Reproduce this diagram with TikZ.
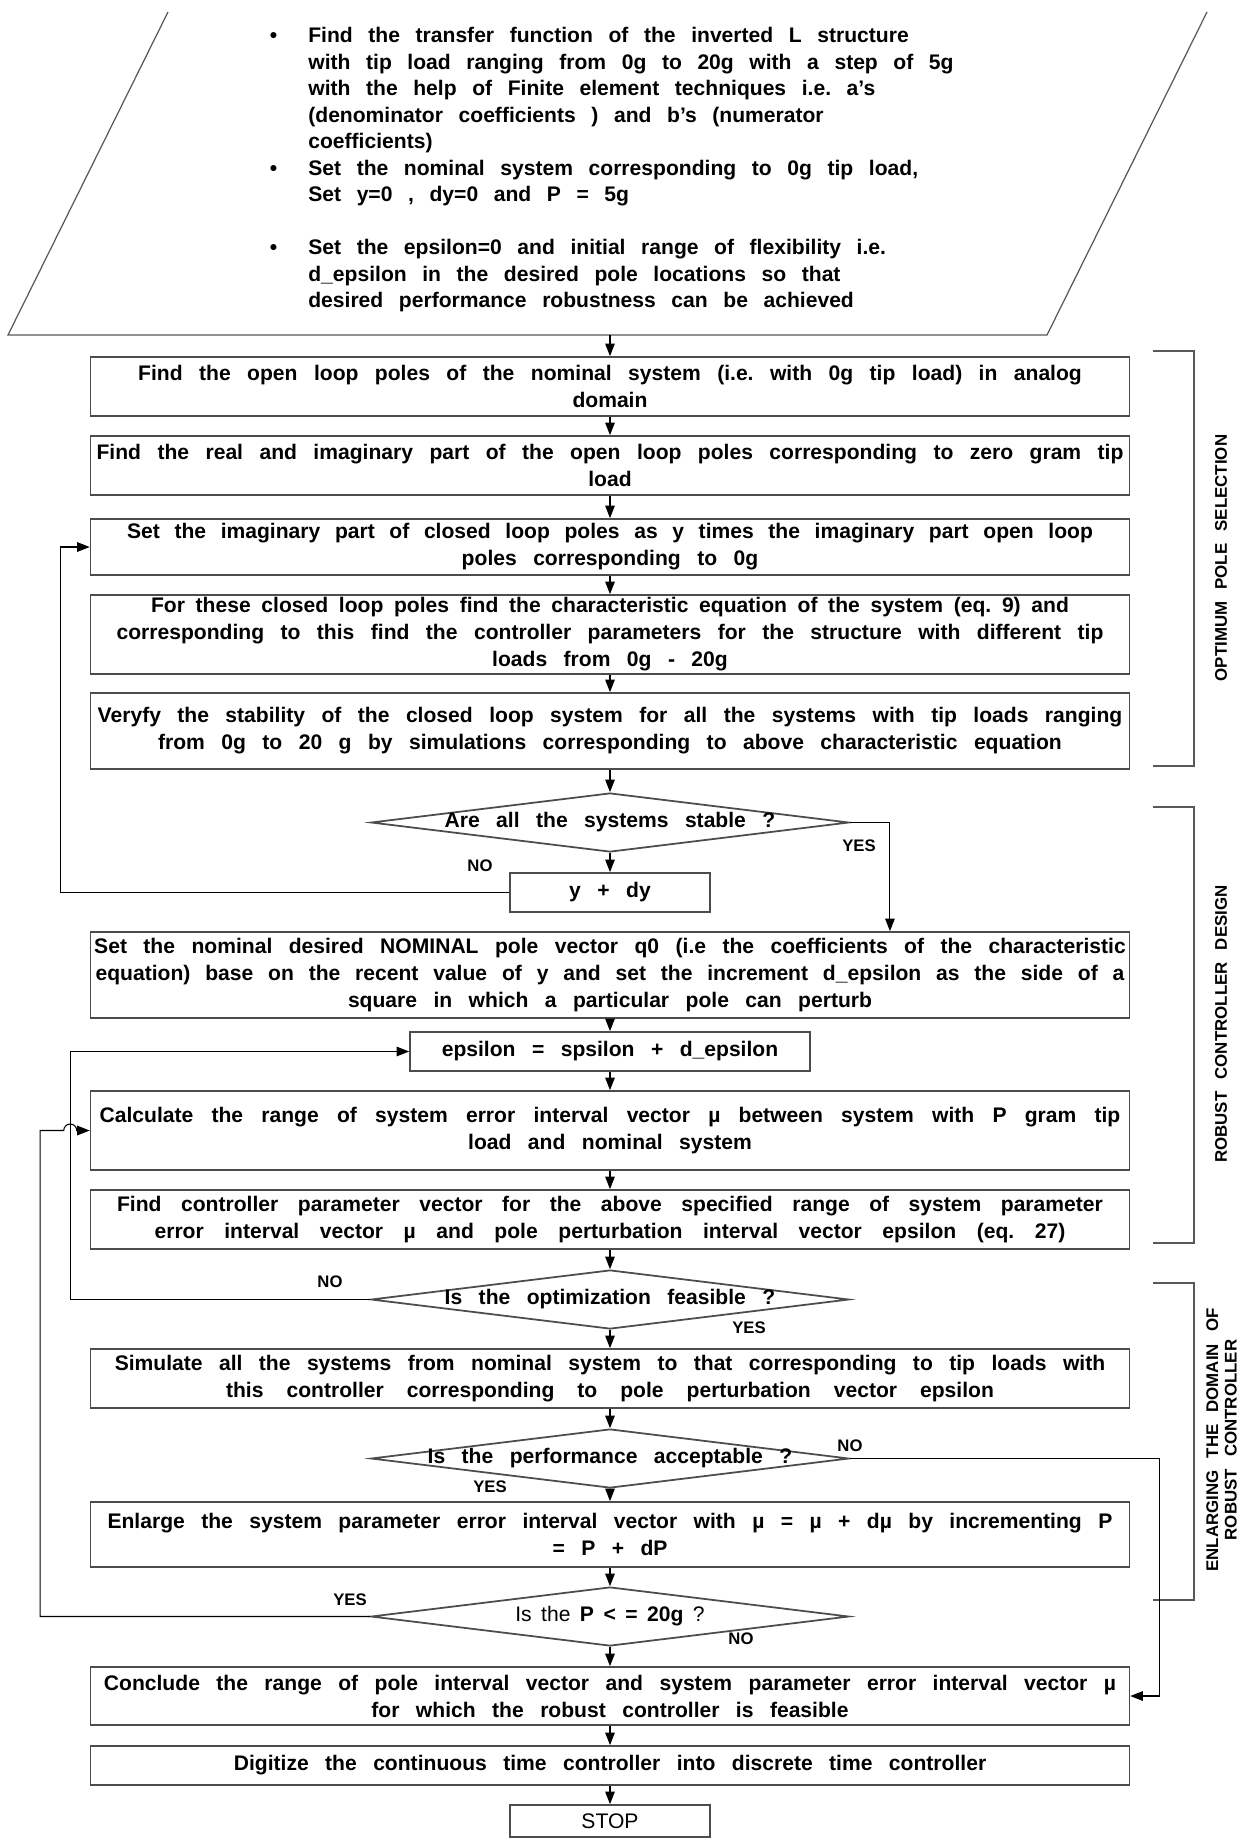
\documentclass[tikz,border=0pt]{standalone}
\usepackage{fontspec}
\setmainfont{Liberation Sans}
\usetikzlibrary{arrows.meta,shapes.geometric}

\newcommand\boxfont{\fontsize{12}{15.4}\selectfont\bfseries\frenchspacing\spaceskip=0.78em plus 0.4em minus 0.35em\relax}
\newcommand\listfont{\fontsize{12}{15.1}\selectfont\bfseries\frenchspacing\spaceskip=0.74em plus 0.2em minus 0.2em\relax}
\newcommand\testfont{\fontsize{12}{15}\selectfont\spaceskip=0.45em\relax}
\newcommand\grpfont{\fontsize{9.6}{10.5}\selectfont\bfseries\spaceskip=0.72em\relax}
\newcommand\lblfont{\fontsize{9.5}{11}\selectfont\bfseries}
\newcommand\fitline[2]{\makebox[#1][s]{#2}}

\begin{document}
\begin{tikzpicture}[x=0.02cm,y=-0.02cm]
    \tikzstyle{every node}+=[inner sep=0pt]
    \tikzstyle{box}=[draw=black!70, line width=1pt, minimum width=20.78cm, align=center, font=\boxfont]
    \tikzstyle{small box}=[box, minimum width=4cm, minimum height=0.78cm]
    \tikzstyle{decision}=[diamond, draw=black!70, line width=1pt, minimum width=9.56cm, minimum height=1.18cm]
    \tikzstyle{arr}=[draw=black, line width=0.6pt, -{Triangle[length=0.25cm,width=0.19cm]}]
    \tikzstyle{frame}=[draw=black!65, line width=0.7pt]
    \tikzstyle{lbl}=[font=\lblfont]
    \tikzstyle{grp}=[font=\grpfont, rotate=90, align=center]

    \path [use as bounding box, fill=white] (0,0) rectangle (1239,1840);

    % input block
    \coordinate (p1) at (168,12);
    \coordinate (p2) at (8,335);
    \coordinate (p3) at (1047,335);
    \coordinate (p4) at (1207,12);
    \coordinate (pin) at (610,335);
    \draw [frame] (p1) -- (p2) -- (p3) -- (p4);
    \node [anchor=north west, align=left, font=\listfont] (intro) at (308,27) {%
        \llap{\textbullet\hspace{0.62cm}}Find the transfer function of the inverted L structure\\
        with tip load ranging from 0g to 20g with a step of 5g\\
        with the help of Finite element techniques i.e. a's\\
        (denominator coefficients ) and b's (numerator\\
        coefficients)\\
        \llap{\textbullet\hspace{0.62cm}}Set the nominal system corresponding to 0g tip load,\\
        Set y=0 , dy=0 and P = 5g\\
        ~\\
        \llap{\textbullet\hspace{0.62cm}}Set the epsilon=0 and initial range of flexibility i.e.\\
        d\_epsilon in the desired pole locations so that\\
        desired performance robustness can be achieved};

    % optimum pole selection
    \node [box, minimum height=1.18cm] (b1) at (610,386.5) {Find the open loop poles of the nominal system (i.e. with 0g tip load) in analog\\domain};
    \node [box, minimum height=1.18cm] (b2) at (610,465.5) {Find the real and imaginary part of the open loop poles corresponding to zero gram tip\\load};
    \node [box, minimum height=1.12cm] (b3) at (610,547) {\fitline{19.32cm}{Set the imaginary part of closed loop poles as y times the imaginary part open loop}\\poles corresponding to 0g};
    \node [box, minimum height=1.58cm] (b4) at (610,634.5) {\fitline{18.36cm}{For these closed loop poles find the characteristic equation of the system (eq. 9) and}\\corresponding to this find the controller parameters for the structure with different tip\\loads from 0g - 20g};
    \node [box, minimum height=1.52cm] (b5) at (610,731) {Veryfy the stability of the closed loop system for all the systems with tip loads ranging\\from 0g to 20 g by simulations corresponding to above characteristic equation};
    \node [decision] (d1) at (610,822.5) {};
    \node [font=\boxfont] (d1txt) at (d1) {Are all the systems stable ?};
    \node [small box] (yd) at (610,892.5) {y + dy};

    % robust controller design
    \node [box, minimum height=1.72cm] (b6) at (610,975) {Set the nominal desired NOMINAL pole vector q0 (i.e the coefficients of the characteristic\\\fitline{20.58cm}{equation) base on the recent value of y and set the increment d\_epsilon as the side of a}\\square in which a particular pole can perturb};
    \node [small box, minimum width=8cm] (eps) at (610,1051.5) {epsilon = spsilon + d\_epsilon};
    \node [box, minimum height=1.58cm] (b7) at (610,1130.5) {\fitline{20.42cm}{Calculate the range of system error interval vector µ between system with P gram tip}\\load and nominal system};
    \node [box, minimum height=1.18cm] (b8) at (610,1219.5) {\fitline{19.72cm}{Find controller parameter vector for the above specified range of system parameter}\\\fitline{18.22cm}{error interval vector µ and pole perturbation interval vector epsilon (eq. 27)}};
    \node [decision] (d2) at (610,1299.5) {};
    \node [font=\boxfont] (d2txt) at (d2) {Is the optimization feasible ?};

    % enlarging the domain
    \node [box, minimum height=1.18cm] (b9) at (610,1378.5) {Simulate all the systems from nominal system to that corresponding to tip loads with\\\fitline{15.36cm}{this controller corresponding to pole perturbation vector epsilon}};
    \node [decision] (d3) at (610,1458.5) {};
    \node [font=\boxfont] (d3txt) at (d3) {Is the performance acceptable ?};
    \node [box, minimum height=1.3cm] (b10) at (610,1534.5) {Enlarge the system parameter error interval vector with µ = µ + dµ by incrementing P\\= P + dP};
    \node [decision] (d4) at (610,1616.5) {};
    \node [font=\testfont] (d4txt) at (d4) {Is the \textbf{P < = 20g} ?};
    \node [box, minimum height=1.16cm] (b11) at (610,1696) {Conclude the range of pole interval vector and system parameter error interval vector µ\\for which the robust controller is feasible};
    \node [box, minimum height=0.78cm] (b12) at (610,1765.5) {Digitize the continuous time controller into discrete time controller};
    \node [small box, minimum height=0.64cm, font=\testfont] (stop) at (610,1821) {STOP};

    % branch labels
    \node [lbl] (no1) at (480,866) {NO};
    \node [lbl] (yes1) at (859,846) {YES};
    \node [lbl] (no2) at (330,1282) {NO};
    \node [lbl] (yes2) at (749,1328) {YES};
    \node [lbl] (no3) at (850,1446) {NO};
    \node [lbl] (yes3) at (490,1487) {YES};
    \node [lbl] (yes4) at (350,1600) {YES};
    \node [lbl] (no4) at (741,1639) {NO};

    % group brackets
    \draw [frame] (1153,351) -- (1194,351) -- (1194,766) -- (1153,766);
    \draw [frame] (1153,807) -- (1194,807) -- (1194,1243) -- (1153,1243);
    \draw [frame] (1153,1283) -- (1194,1283) -- (1194,1600) -- (1153,1600);
    \node [grp] (ops) at (1221,558) {OPTIMUM POLE SELECTION};
    \node [grp] (rcd) at (1221,1024) {ROBUST CONTROLLER DESIGN};
    \node [grp] (enl) at (1221.5,1440) {ENLARGING THE DOMAIN OF\\ROBUST CONTROLLER};

    % main flow
    \draw [arr] (pin) -- (b1);
    \draw [arr] (b1) -- (b2);
    \draw [arr] (b2) -- (b3);
    \draw [arr] (b3) -- (b4);
    \draw [arr] (b4) -- (b5);
    \draw [arr] (b5) -- (d1);
    \draw [arr] (d1) -- (yd);
    \draw [arr] (b6) -- (eps);
    \draw [arr] (eps) -- (b7);
    \draw [arr] (b7) -- (b8);
    \draw [arr] (b8) -- (d2);
    \draw [arr] (d2) -- (b9);
    \draw [arr] (b9) -- (d3);
    \draw [arr] (d3) -- (b10);
    \draw [arr] (b10) -- (d4);
    \draw [arr] (d4) -- (b11);
    \draw [arr] (b11) -- (b12);
    \draw [arr] (b12) -- (stop);

    % loops
    \draw [arr] (yd.west) -- ++(-449,0) |- (b3.west);
    \draw [arr] (d1.east) -| ([xshift=5.6cm]b6.north);
    \draw [arr] (d2.west) -- ++(-300,0) |- (eps.west);
    \draw [arr] (d3.east) -- ++(310,0) |- (b11.east);
    \draw [arr] (d4.west) -- ++(-330,0) |- ([xshift=-0.52cm]b7.west) arc (180:360:6.5) -- (b7.west);
\end{tikzpicture}
\end{document}
